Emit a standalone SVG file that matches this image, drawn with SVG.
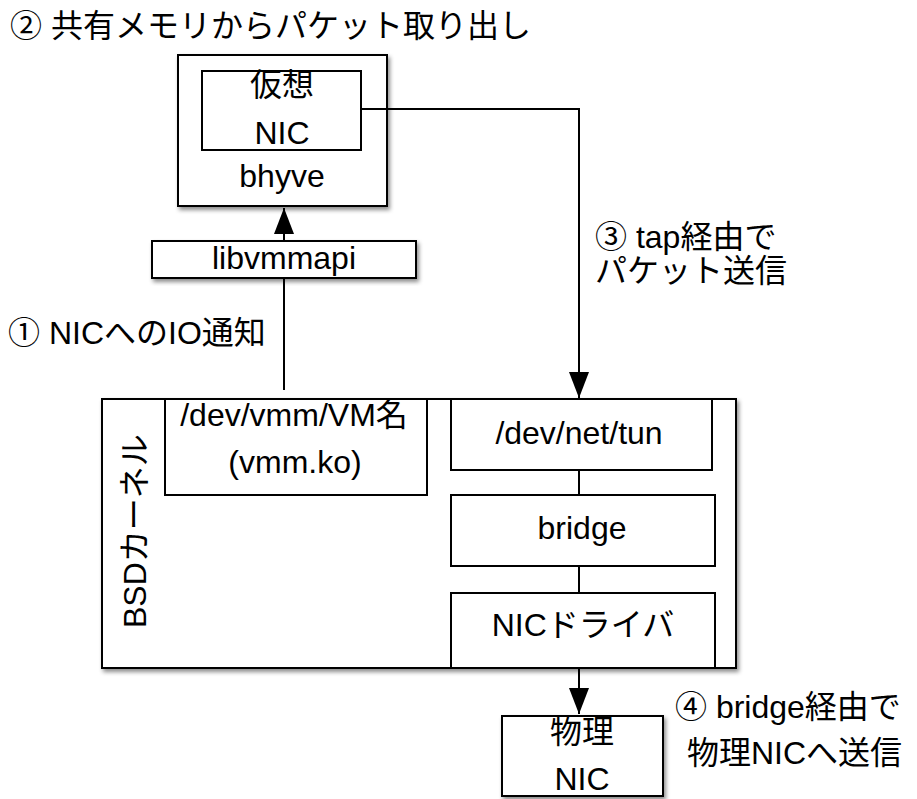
<svg xmlns="http://www.w3.org/2000/svg" width="917" height="799" viewBox="0 0 917 799">
<style>
text{font-family:"Liberation Sans","Noto Sans CJK JP",sans-serif;font-size:32px;fill:#000}
.c{text-anchor:middle}
.box{fill:#fff;stroke:#000;stroke-width:2}
.sh{filter:url(#shadow)}
.ln{fill:none;stroke:#000;stroke-width:2}
</style>
<defs>
<filter id="shadow" x="-10%" y="-10%" width="125%" height="130%">
<feDropShadow dx="2" dy="3" stdDeviation="2" flood-color="#000" flood-opacity="0.45"/>
</filter>
<marker id="arr" viewBox="0 0 26 20" refX="26" refY="10" markerWidth="26" markerHeight="20" orient="auto" markerUnits="userSpaceOnUse">
<path d="M0,0 L26,10 L0,20 z" fill="#000"/>
</marker>
</defs>
<rect width="917" height="799" fill="#fff"/>

<g id="title">
<text x="10" y="37">② 共有メモリからパケット取り出し</text>
</g>

<g id="bhyve">
<rect class="box sh" x="178" y="55" width="209" height="151"/>
<text class="c" x="282" y="187">bhyve</text>
</g>
<g id="vnic">
<rect class="box" x="202" y="71" width="159" height="79"/>
<text class="c" x="282" y="96">仮想</text>
<text class="c" x="282" y="144">NIC</text>
</g>

<g id="libvmmapi">
<rect class="box sh" x="152" y="241" width="264" height="37"/>
<text class="c" x="284" y="269">libvmmapi</text>
</g>

<g id="kernel">
<rect class="box sh" x="102" y="399" width="634" height="269"/>
<text transform="translate(146,628) rotate(-90)">BSDカーネル</text>
</g>

<g id="devvmm">
<rect class="box" x="165" y="399" width="262" height="96"/>
<text class="c" x="294" y="426">/dev/vmm/VM名</text>
<text class="c" x="295" y="473">(vmm.ko)</text>
</g>

<g id="tun">
<rect class="box" x="451" y="399" width="261" height="71"/>
<text class="c" x="579" y="444">/dev/net/tun</text>
</g>

<g id="bridge">
<rect class="box" x="451" y="495" width="264" height="71"/>
<text class="c" x="582" y="539">bridge</text>
</g>

<g id="nicdriver">
<rect class="box" x="451" y="593" width="264" height="75"/>
<text class="c" x="583" y="636">NICドライバ</text>
</g>

<g id="physnic">
<rect class="box sh" x="502" y="716" width="161" height="80"/>
<text class="c" x="582" y="743">物理</text>
<text class="c" x="582" y="790">NIC</text>
</g>

<g id="labels">
<text x="8" y="344">① NICへのIO通知</text>
<text x="595" y="248">③ tap経由で</text>
<text x="595" y="282">パケット送信</text>
<text x="675" y="718">④ bridge経由で</text>
<text x="687" y="764">物理NICへ送信</text>
</g>

<g id="connectors">
<line class="ln" x1="284" y1="390" x2="284" y2="278"/>
<line class="ln" x1="284" y1="241" x2="284" y2="208" marker-end="url(#arr)"/>
<path class="ln" d="M361,109 H579 V398" marker-end="url(#arr)"/>
<line class="ln" x1="579" y1="470" x2="579" y2="495"/>
<line class="ln" x1="579" y1="566" x2="579" y2="593"/>
<line class="ln" x1="579" y1="668" x2="579" y2="714" marker-end="url(#arr)"/>
</g>
</svg>
